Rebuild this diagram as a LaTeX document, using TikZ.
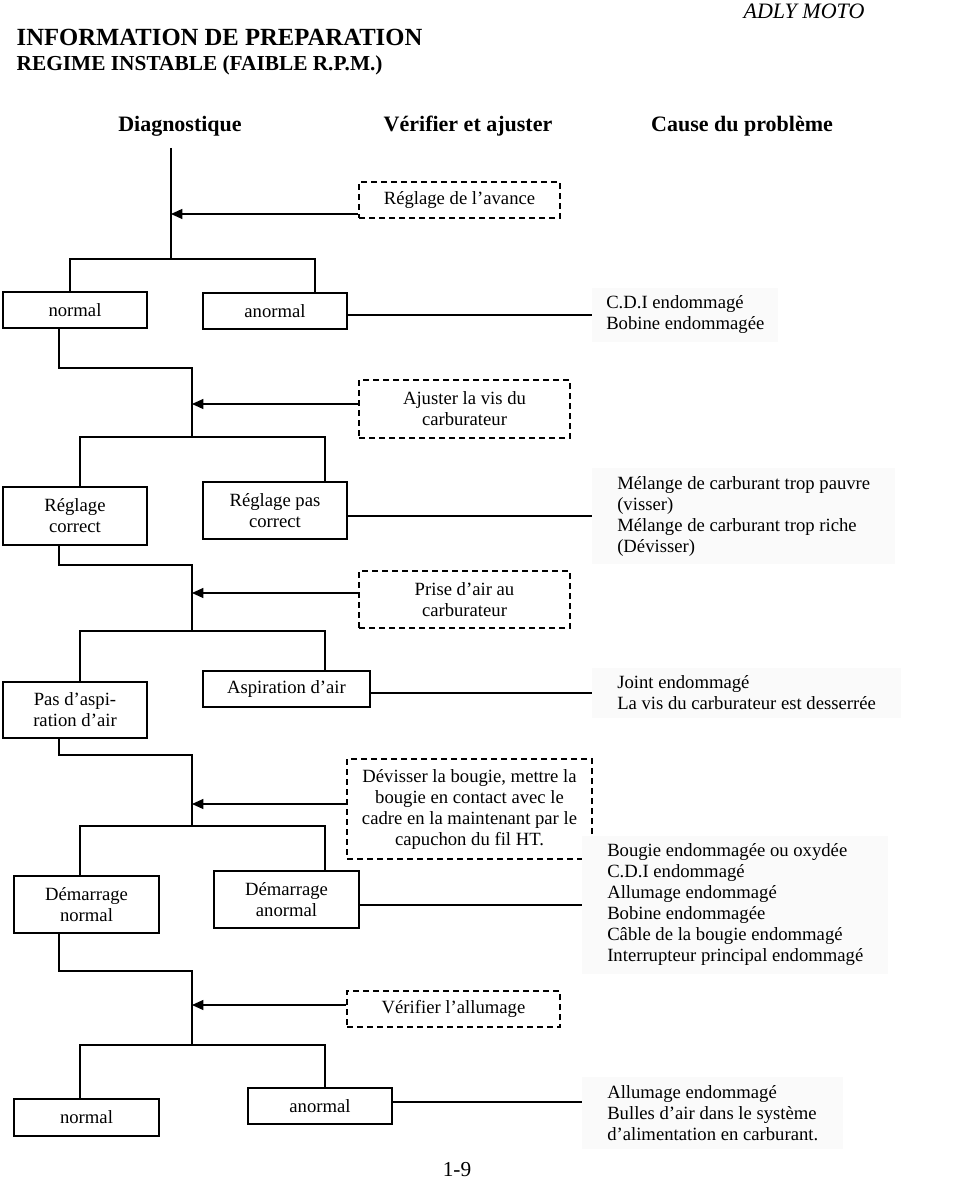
\documentclass[tikz,border=0pt]{standalone}
\usepackage{fontspec}
\setmainfont{Liberation Serif}
\usetikzlibrary{arrows.meta}
\tikzset{
  box/.style={draw, line width=1.2pt, align=center, inner sep=0pt, font=\fontsize{14}{15.75}\selectfont},
  chk/.style={box, line width=1pt, dash pattern=on 4.5pt off 3pt},
  cause/.style={anchor=west, align=left, fill=black!2, inner xsep=18.75pt, inner ysep=6pt, font=\fontsize{14}{15.75}\selectfont},
  link/.style={line width=0.9pt},
  arr/.style={link, -{Triangle[length=8.5pt,width=7.5pt]}},
  colhead/.style={anchor=base, font=\fontsize{16.5}{18}\selectfont\bfseries}
}
\begin{document}
\begin{tikzpicture}[x=0.75pt,y=-0.75pt]
\useasboundingbox (0,0) rectangle (960,1180);
% en-tete
\node[anchor=west, font=\fontsize{18.5}{20}\selectfont\bfseries] (titre) at (12,37) {INFORMATION DE PREPARATION};
\node[anchor=west, font=\fontsize{16}{18}\selectfont\bfseries] (regime) at (12,65) {REGIME INSTABLE (FAIBLE R.P.M.)};
\node[font=\fontsize{16.5}{18}\selectfont\itshape] (marque) at (804,11) {ADLY MOTO};
\node[colhead] (hdiag) at (180,132) {Diagnostique};
\node[colhead] (hverif) at (468,132) {Vérifier et ajuster};
\node[colhead] (hcause) at (742,132) {Cause du problème};
% boites
\node[chk, minimum width=150.75pt, minimum height=27pt] (avance) at (459.5,200) {Réglage de l’avance};
\node[box, minimum width=108pt, minimum height=27pt] (norm1) at (75,310) {normal};
\node[box, minimum width=108pt, minimum height=27pt] (anorm1) at (275,311) {anormal};
\node[chk, minimum width=158.25pt, minimum height=43.5pt] (ajuster) at (464.5,409) {Ajuster la vis du\\carburateur};
\node[box, minimum width=108pt, minimum height=43.5pt] (regc) at (75,516) {Réglage\\correct};
\node[box, minimum width=108pt, minimum height=42.75pt] (regpc) at (275,510.5) {Réglage pas\\correct};
\node[chk, minimum width=158.25pt, minimum height=42.75pt] (prise) at (464.5,599.5) {Prise d’air au\\carburateur};
\node[box, minimum width=108pt, minimum height=42pt] (pasasp) at (75,710) {Pas d’aspi-\\ration d’air};
\node[box, minimum width=125.25pt, minimum height=27pt] (asp) at (286.5,689) {Aspiration d’air};
\node[chk, minimum width=183.75pt, minimum height=75pt] (devis) at (469.5,809) {Dévisser la bougie, mettre la\\bougie en contact avec le\\cadre en la maintenant par le\\capuchon du fil HT.};
\node[box, minimum width=108.75pt, minimum height=42.75pt] (demn) at (86.5,904.5) {Démarrage\\normal};
\node[box, minimum width=108.75pt, minimum height=42.75pt] (dema) at (286.5,899.5) {Démarrage\\anormal};
\node[chk, minimum width=159.75pt, minimum height=27pt] (verif) at (453.5,1009) {Vérifier l’allumage};
\node[box, minimum width=108.75pt, minimum height=27.75pt] (norm2) at (86.5,1117.5) {normal};
\node[box, minimum width=108pt, minimum height=27pt] (anorm2) at (320,1106) {anormal};
% causes
\node[cause, inner xsep=10.5pt] (cdi) at (592,315) {C.D.I endommagé\\Bobine endommagée};
\node[cause] (melange) at (592,516) {Mélange de carburant trop pauvre\\(visser)\\Mélange de carburant trop riche\\(Dévisser)};
\node[cause] (joint) at (592,693) {Joint endommagé\\La vis du carburateur est desserrée};
\node[cause] (bougie) at (582,905) {Bougie endommagée ou oxydée\\C.D.I endommagé\\Allumage endommagé\\Bobine endommagée\\Câble de la bougie endommagé\\Interrupteur principal endommagé};
\node[cause] (bulles) at (582,1113) {Allumage endommagé\\Bulles d’air dans le système\\d’alimentation en carburant.};
\node[inner sep=0pt, font=\fontsize{16}{18}\selectfont] (page) at (457,1170) {1-9};
% liaisons
\coordinate (t0) at (171,148); \coordinate (h0) at (171,259);
\coordinate (l0) at (70,259); \coordinate (r0) at (315,259);
\draw[link] (t0) -- (h0);
\draw[arr] (avance.west |- 0,214) -- (t0 |- 0,214);
\draw[link] (norm1.north -| l0) -- (l0) -- (r0) -- (anorm1.north -| r0);
% niveau 1
\coordinate (c1) at (59,368); \coordinate (s1) at (192,368); \coordinate (h1) at (192,437);
\coordinate (l1) at (80,437); \coordinate (r1) at (325,437);
\draw[link] (norm1.south -| c1) -- (c1) -- (s1) -- (h1);
\draw[arr] (ajuster.west |- 0,404) -- (s1 |- 0,404);
\draw[link] (regc.north -| l1) -- (l1) -- (r1) -- (regpc.north -| r1);
% niveau 2
\coordinate (c2) at (59,565); \coordinate (s2) at (192,565); \coordinate (h2) at (192,631);
\coordinate (l2) at (80,631); \coordinate (r2) at (325,631);
\draw[link] (regc.south -| c2) -- (c2) -- (s2) -- (h2);
\draw[arr] (prise.west |- 0,593) -- (s2 |- 0,593);
\draw[link] (pasasp.north -| l2) -- (l2) -- (r2) -- (asp.north -| r2);
% niveau 3
\coordinate (c3) at (59,755); \coordinate (s3) at (192,755); \coordinate (h3) at (192,826);
\coordinate (l3) at (80,826); \coordinate (r3) at (325,826);
\draw[link] (pasasp.south -| c3) -- (c3) -- (s3) -- (h3);
\draw[arr] (devis.west |- 0,804) -- (s3 |- 0,804);
\draw[link] (demn.north -| l3) -- (l3) -- (r3) -- (dema.north -| r3);
% niveau 4
\coordinate (c4) at (59,971); \coordinate (s4) at (192,971); \coordinate (h4) at (192,1045);
\coordinate (l4) at (80,1045); \coordinate (r4) at (325,1045);
\draw[link] (demn.south -| c4) -- (c4) -- (s4) -- (h4);
\draw[arr] (verif.west |- 0,1005) -- (s4 |- 0,1005);
\draw[link] (norm2.north -| l4) -- (l4) -- (r4) -- (anorm2.north -| r4);
% vers les causes
\draw[link] (anorm1.east |- cdi.west) -- (cdi.west);
\draw[link] (regpc.east |- melange.west) -- (melange.west);
\draw[link] (asp.east |- joint.west) -- (joint.west);
\draw[link] (dema.east |- bougie.west) -- (bougie.west);
\draw[link] (anorm2.east |- 0,1102) -- (bulles.west |- 0,1102);
\end{tikzpicture}
\end{document}
